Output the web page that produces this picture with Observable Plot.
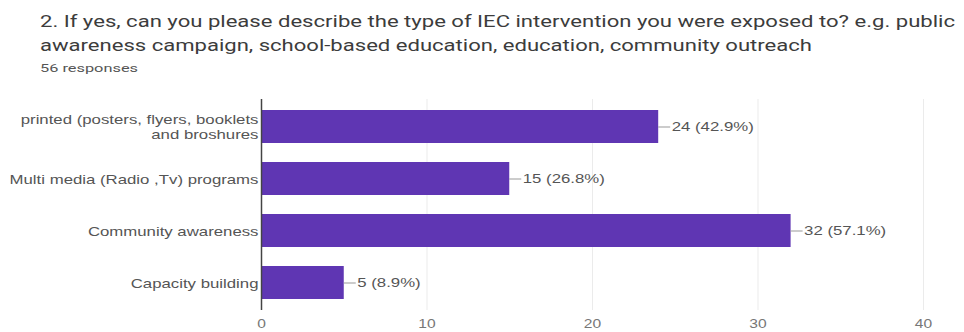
<!DOCTYPE html>
<html>
<head>
<meta charset="utf-8">
<script src="https://cdn.jsdelivr.net/npm/d3@7"></script>
<script src="https://cdn.jsdelivr.net/npm/@observablehq/plot@0.6"></script>
<style>
  html, body { margin: 0; padding: 0; background: #fff; }
  body { width: 964px; height: 332px; overflow: hidden; font-family: Roboto, "Liberation Sans", Arial, sans-serif; }
  #head { position: relative; height: 72px; }
  .ln { position: absolute; left: 40px; white-space: nowrap; transform-origin: 0 0; color: #3c3c3c; }
  #t1 { top: 12px; font-size: 16px; line-height: 20px; }
  #t2 { top: 36px; font-size: 16px; line-height: 20px; }
  #sub { top: 63px; font-size: 10px; line-height: 12px; color: #555; }
  svg { display: block; }
</style>
</head>
<body>
<div id="head">
  <span class="ln" id="t1">2. If yes, can you please describe the type of IEC intervention you were exposed to? e.g. public</span>
  <span class="ln" id="t2">awareness campaign, school-based education, education, community outreach</span>
  <span class="ln" id="sub">56 responses</span>
</div>
<div id="chart"></div>
<script>
const categories = [
  "printed (posters, flyers, booklets\nand broshures",
  "Multi media (Radio ,Tv) programs",
  "Community awareness",
  "Capacity building"
];
const counts = [24, 15, 32, 5];
const percents = ["42.9%", "26.8%", "57.1%", "8.9%"];
const xTicks = [0, 10, 20, 30, 40];

const data = categories.map((c, i) => ({cat: c, n: counts[i], label: counts[i] + " (" + percents[i] + ")"}));

const chart = Plot.plot({
  width: 964,
  height: 260,
  marginTop: 27,
  marginBottom: 22,
  marginLeft: 261,
  marginRight: 41,
  style: {fontFamily: "Liberation Sans, Arial, sans-serif", fontSize: "12px", color: "#444"},
  x: {domain: [0, 40], ticks: xTicks, label: null, grid: false},
  y: {domain: categories, label: null, paddingInner: 0.37, paddingOuter: 0.19},
  marks: [
    Plot.ruleX(xTicks.slice(1), {stroke: "#ebebeb", strokeWidth: 1}),
    Plot.barX(data, {y: "cat", x: "n", fill: "#5f36b3"}),
    Plot.ruleX([0], {stroke: "#444", strokeWidth: 1.5}),
    Plot.ruleY(data, {y: "cat", x1: "n", x2: "n", insetRight: -12, stroke: "#999", strokeWidth: 1}),
    Plot.text(data, {y: "cat", x: "n", text: "label", textAnchor: "start", dx: 13, fill: "#555", fontSize: 12}),
    Plot.axisX({ticks: xTicks, tickSize: 0, tickPadding: 9, fill: "#777", fontSize: 12}),
    Plot.axisY({tickSize: 0, tickPadding: 3, fill: "#555", fontSize: 12, lineHeight: 1.25})
  ]
});
document.getElementById("chart").appendChild(chart);

// horizontal stretch to mimic the wide lettering of the reference
function stretchX(el, sx) {
  const anchor = getComputedStyle(el).textAnchor;
  const bb = el.getBBox();
  const ax = anchor === "end" ? bb.x + bb.width : anchor === "middle" ? bb.x + bb.width / 2 : bb.x;
  const t = el.getAttribute("transform") || "";
  el.setAttribute("transform", `${t} translate(${ax},0) scale(${sx},1) translate(${-ax},0)`);
}
chart.querySelectorAll('g[aria-label="y-axis tick label"] text').forEach(el => stretchX(el, 1.4));
chart.querySelectorAll('g[aria-label="x-axis tick label"] text').forEach(el => stretchX(el, 1.3));
chart.querySelectorAll('g[aria-label="text"] text').forEach(el => stretchX(el, 1.4));

function fitWidth(id, w) {
  const el = document.getElementById(id);
  el.style.transform = `scaleX(${w / el.getBoundingClientRect().width})`;
}
fitWidth("t1", 915);
fitWidth("t2", 772);
fitWidth("sub", 98);
</script>
</body>
</html>
